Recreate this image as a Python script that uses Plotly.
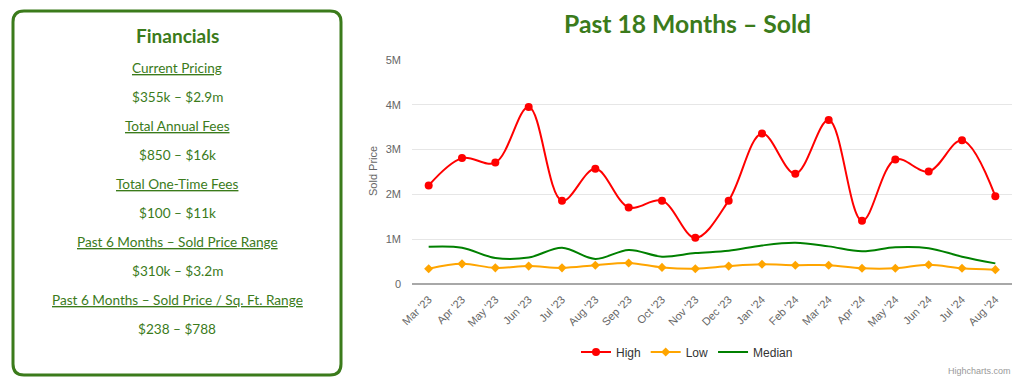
import plotly.graph_objects as go

W, H = 1024, 387

months = ["Mar '23", "Apr '23", "May '23", "Jun '23", "Jul '23", "Aug '23", "Sep '23",
          "Oct '23", "Nov '23", "Dec '23", "Jan '24", "Feb '24", "Mar '24", "Apr '24",
          "May '24", "Jun '24", "Jul '24", "Aug '24"]
high = [2200000, 2810000, 2710000, 3950000, 1860000, 2570000, 1710000, 1860000, 1030000,
        1860000, 3360000, 2460000, 3660000, 1410000, 2780000, 2510000, 3210000, 1960000]
low = [340000, 450000, 360000, 400000, 360000, 420000, 470000, 370000, 340000,
       400000, 440000, 420000, 420000, 350000, 350000, 430000, 350000, 320000]
median = [830000, 810000, 580000, 590000, 810000, 560000, 760000, 610000, 690000,
          740000, 860000, 920000, 840000, 730000, 820000, 800000, 610000, 460000]
y_ticks = [0, 1000000, 2000000, 3000000, 4000000, 5000000]
y_tick_labels = ["0", "1M", "2M", "3M", "4M", "5M"]

panel_title = "Financials"
panel_items = [
    ("Current Pricing", "$355k – $2.9m"),
    ("Total Annual Fees", "$850 – $16k"),
    ("Total One-Time Fees", "$100 – $11k"),
    ("Past 6 Months – Sold Price Range", "$310k – $3.2m"),
    ("Past 6 Months – Sold Price / Sq. Ft. Range", "$238 – $788"),
]

GREEN = "#3b7b1b"
PANEL_FONT = "Lato"
HC_FONT = "Liberation Sans"


def px(x):
    return x / W


def py(y):
    return 1 - y / H


fig = go.Figure()
fig.add_trace(go.Scatter(x=months, y=high, name="High", mode="lines+markers",
                         line=dict(color="#ff0000", width=2, shape="spline", smoothing=1),
                         marker=dict(symbol="circle", size=8, color="#ff0000")))
fig.add_trace(go.Scatter(x=months, y=low, name="Low", mode="lines+markers",
                         line=dict(color="#ffa500", width=2, shape="spline", smoothing=1),
                         marker=dict(symbol="diamond", size=7, color="#ffa500")))
fig.add_trace(go.Scatter(x=months, y=median, name="Median", mode="lines",
                         line=dict(color="#008000", width=2, shape="spline", smoothing=1)))

# rounded panel border
x0, y0, x1, y1, r = 13, 11, 341, 375, 11
path = (f"M {px(x0 + r)} {py(y0)} L {px(x1 - r)} {py(y0)} "
        f"Q {px(x1)} {py(y0)} {px(x1)} {py(y0 + r)} L {px(x1)} {py(y1 - r)} "
        f"Q {px(x1)} {py(y1)} {px(x1 - r)} {py(y1)} L {px(x0 + r)} {py(y1)} "
        f"Q {px(x0)} {py(y1)} {px(x0)} {py(y1 - r)} L {px(x0)} {py(y0 + r)} "
        f"Q {px(x0)} {py(y0)} {px(x0 + r)} {py(y0)} Z")
fig.add_shape(type="path", xref="paper", yref="paper", path=path,
              line=dict(color=GREEN, width=3))

ann = []
ann.append(dict(text=f"<b>{panel_title}</b>", x=px(177), y=py(36), xref="paper", yref="paper",
                showarrow=False, xanchor="center", yanchor="middle",
                font=dict(family=PANEL_FONT, size=19, color=GREEN)))
yy = 68
for head, val in panel_items:
    ann.append(dict(text=f"<u>{head}</u>", x=px(177), y=py(yy), xref="paper", yref="paper",
                    showarrow=False, xanchor="center", yanchor="middle",
                    font=dict(family=PANEL_FONT, size=13.6, color=GREEN)))
    ann.append(dict(text=val, x=px(177), y=py(yy + 29), xref="paper", yref="paper",
                    showarrow=False, xanchor="center", yanchor="middle",
                    font=dict(family=PANEL_FONT, size=13.6, color=GREEN)))
    yy += 58

ann.append(dict(text="<b>Past 18 Months – Sold</b>", x=px(687), y=py(23), xref="paper",
                yref="paper", showarrow=False, xanchor="center", yanchor="middle",
                font=dict(family=PANEL_FONT, size=24.7, color=GREEN)))
ann.append(dict(text="Sold Price", x=px(373), y=py(171), xref="paper", yref="paper",
                showarrow=False, xanchor="center", yanchor="middle", textangle=-90,
                font=dict(family=HC_FONT, size=11, color="#666666")))
ann.append(dict(text="Highcharts.com", x=px(1013), y=py(371), xref="paper", yref="paper",
                showarrow=False, xanchor="right", yanchor="middle",
                font=dict(family=HC_FONT, size=9, color="#999999")))

fig.update_layout(
    width=W, height=H, autosize=False,
    margin=dict(l=0, r=0, t=0, b=0),
    paper_bgcolor="white", plot_bgcolor="white",
    font=dict(family=HC_FONT, size=11, color="#666666"),
    annotations=ann,
    showlegend=True,
    legend=dict(orientation="h", x=px(687), y=py(352), xanchor="center", yanchor="middle",
                font=dict(family=HC_FONT, size=12, color="#333333"), itemwidth=30,
                bgcolor="rgba(0,0,0,0)"),
    xaxis=dict(domain=[px(412), px(1012)], range=[-0.5, 17.5], type="category",
               tickangle=-45, showgrid=False, showline=False, zeroline=False,
               ticks="", ticklabelstandoff=6,
               tickfont=dict(family=HC_FONT, size=11, color="#666666"),
               automargin=False, fixedrange=True),
    yaxis=dict(domain=[py(284), py(60)], range=[0, 5000000], tickvals=y_ticks,
               ticktext=y_tick_labels, showgrid=True, gridcolor="#e6e6e6", gridwidth=1,
               zeroline=True, zerolinecolor="#a8a8a8", zerolinewidth=2, showline=False,
               ticks="", ticklabelstandoff=10,
               tickfont=dict(family=HC_FONT, size=11, color="#666666"),
               automargin=False, fixedrange=True),
)

fig.write_html("out.html", post_script="document.body.style.margin='0';",
               config={"displayModeBar": False})
